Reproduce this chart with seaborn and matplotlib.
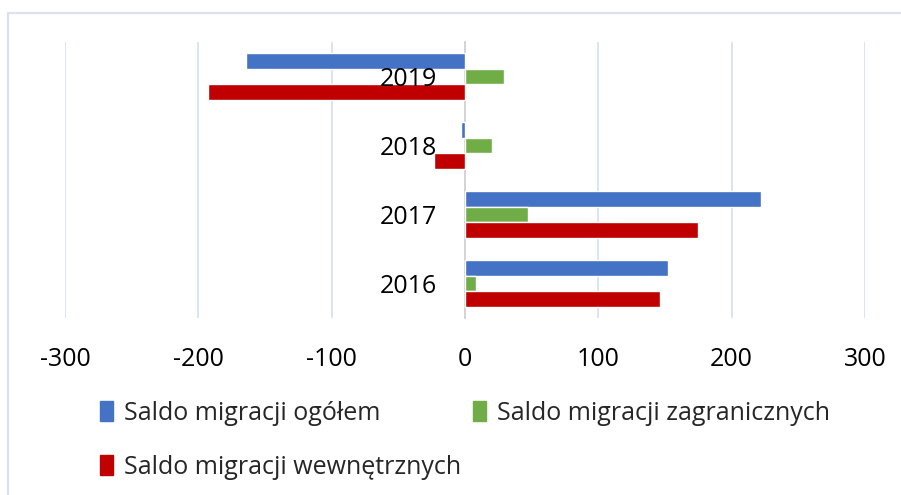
import matplotlib
matplotlib.use("Agg")
import matplotlib.pyplot as plt
import matplotlib.patches as mpatches
import pandas as pd
import seaborn as sns

# Data
years = ["2019", "2018", "2017", "2016"]
series = [
    "Saldo migracji ogółem",
    "Saldo migracji zagranicznych",
    "Saldo migracji wewnętrznych",
]
ogolem = [-164, -3, 222, 152]
zagraniczne = [29, 20, 47, 8]
wewnetrzne = [-193, -23, 175, 146]
colors = ["#4472C4", "#70AD47", "#C00000"]
x_ticks = [-300, -200, -100, 0, 100, 200, 300]

df = pd.DataFrame({
    "rok": years * 3,
    "seria": [series[0]] * 4 + [series[1]] * 4 + [series[2]] * 4,
    "saldo": ogolem + zagraniczne + wewnetrzne,
})

sns.set_style("white")
plt.rcParams["font.family"] = ["Open Sans", "DejaVu Sans"]

fig = plt.figure(figsize=(9.01, 4.95), dpi=100)
ax = fig.add_axes([65 / 901, 1 - 318 / 495, 800 / 901, 276 / 495])

sns.barplot(
    data=df, x="saldo", y="rok", hue="seria", order=years, hue_order=series,
    palette=colors, orient="h", width=0.69, saturation=1, ax=ax, legend=False,
)

ax.set_xlim(-300, 300)
ax.set_xticks(x_ticks)
ax.set_xticklabels([str(t) for t in x_ticks])
ax.set_xlabel("")
ax.set_ylabel("")
ax.grid(False)
# gridlines behind the bars, year labels stay on top of them
for t in x_ticks:
    if t != 0:
        ax.axvline(t, color="#D9E1F2", linewidth=1.3, zorder=0.5)
ax.set_axisbelow(False)

for s in ["top", "right", "bottom"]:
    ax.spines[s].set_visible(False)
ax.spines["left"].set_position(("data", 0))
ax.spines["left"].set_color("#D0D0D0")
ax.spines["left"].set_linewidth(1.3)
ax.spines["left"].set_zorder(0.6)

ax.tick_params(axis="y", length=0, pad=20, labelsize=18, colors="black")
ax.tick_params(axis="x", length=0, pad=21, labelsize=18, colors="black")

# legend, row-major order like the original
handles = [mpatches.Patch(color=c) for c in colors]
order = [0, 2, 1]
fig.legend(
    [handles[i] for i in order], [series[i] for i in order],
    ncol=2, loc="upper left", bbox_to_anchor=(100 / 901, 1 - 401 / 495),
    frameon=False, fontsize=18, handlelength=0.5, handleheight=0.85,
    handletextpad=0.45, columnspacing=0.5, labelspacing=1.15,
    borderaxespad=0, borderpad=0,
)

# light frame around the chart area
frame = mpatches.Rectangle(
    (8 / 901, -0.1), 1.2, 1 - 13 / 495 + 0.1, transform=fig.transFigure,
    fill=False, edgecolor="#D9E1F2", linewidth=1.5,
)
fig.patches.append(frame)

fig.savefig("out.png", dpi=100)
